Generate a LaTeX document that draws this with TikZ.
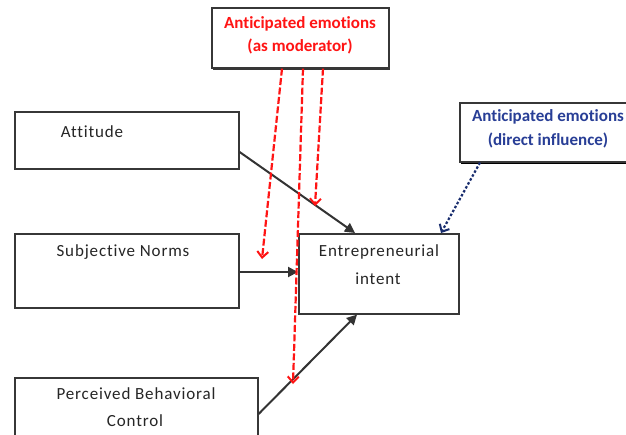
\documentclass[tikz,border=0pt]{standalone}
\usepackage{fontspec}
\setmainfont[Ligatures={NoCommon,NoRequired,NoContextual}]{Carlito}
\usetikzlibrary{arrows.meta,calc}
\definecolor{modred}{RGB}{255,20,20}
\definecolor{dirblue}{RGB}{40,62,150}
\definecolor{dirline}{RGB}{25,45,110}
\definecolor{boxline}{RGB}{55,55,55}
\newcommand{\antic}{Ant\kern0pt icipated}
\begin{document}
\begin{tikzpicture}[x=1pt,y=-1pt,
  box/.style={draw=boxline,line width=1.6pt,fill=white,inner sep=0pt,anchor=north west},
  txt/.style={inner sep=0pt,font=\fontsize{17}{20}\selectfont\addfontfeatures{LetterSpace=5},text=black!85},
  redtxt/.style={inner sep=0pt,font=\fontsize{17}{20}\selectfont\bfseries,text=modred},
  bluetxt/.style={inner sep=0pt,font=\fontsize{17}{20}\selectfont\bfseries,text=dirblue},
  solidarrow/.style={draw=black!80,line width=2pt,-{Triangle[length=10pt,width=10pt]}},
  modarrow/.style={draw=modred,line width=2.2pt,dash pattern=on 7pt off 2.5pt,-{Straight Barb[length=6pt,width=11pt,line width=2pt]}},
  dirarrow/.style={draw=dirline,line width=2.2pt,dash pattern=on 2.5pt off 2pt,-{Straight Barb[length=6pt,width=11pt,line width=2pt]}}
]
\useasboundingbox (0,0) rectangle (626,434);
\clip (0,0) rectangle (626,434);
\fill[white] (0,0) rectangle (626,434);

% boxes
\node[box,minimum width=224,minimum height=57] (att) at (14,111) {};
\node[box,minimum width=224,minimum height=74] (sn) at (14,233) {};
\node[box,minimum width=243,minimum height=80] (pbc) at (14,377) {};
\node[box,minimum width=160,minimum height=80] (ent) at (298,233) {};
\fill[boxline] (213,65) rectangle (390,69.5);
\node[box,minimum width=177,minimum height=60] (mod) at (211,7) {};
\fill[black] (461,159) rectangle (640,163.5);
\node[box,minimum width=178,minimum height=59] (dir) at (459,102) {};

% texts
\node[txt] (attT) at (92,132) {Attitude};
\node[txt] (snT) at (123,252) {Subjective Norms};
\node[txt] (pbcT1) at (136,394) {Perceived Behavioral};
\node[txt] (pbcT2) at (135,421) {Control};
\node[txt] (entT1) at (379,252) {Entrepreneurial};
\node[txt] (entT2) at (378,279) {intent};
\node[redtxt] (modT1) at (300,24) {\antic{} emotions};
\node[redtxt] (modT2) at (300,46) {(as moderator)};
\node[bluetxt] (dirT1) at (548,117) {\antic{} emotions};
\node[bluetxt] (dirT2) at (548,140) {(direct influence)};

% solid arrows
\draw[solidarrow] ($(att.north east)+(0,41)$) -- ($(ent.north west)+(57,0)$);
\draw[solidarrow] ($(sn.north east)+(0,39)$) -- ($(ent.north west)+(0,39)$);
\draw[solidarrow] ($(pbc.north east)+(0,37)$) -- ($(ent.south west)+(59,0)$);

% moderator arrows
\coordinate (r1) at (262,259);
\coordinate (r2) at (293,384);
\coordinate (r3) at (315,206);
\draw[modarrow] ($(mod.south west)+(71,0)$) -- (r1);
\draw[modarrow] ($(mod.south west)+(92,0)$) -- (r2);
\draw[modarrow] ($(mod.south west)+(112,0)$) -- (r3);

% direct influence arrow
\draw[dirarrow] ($(dir.south west)+(21,0)$) -- ($(ent.north west)+(143,0)$);
\end{tikzpicture}
\end{document}
